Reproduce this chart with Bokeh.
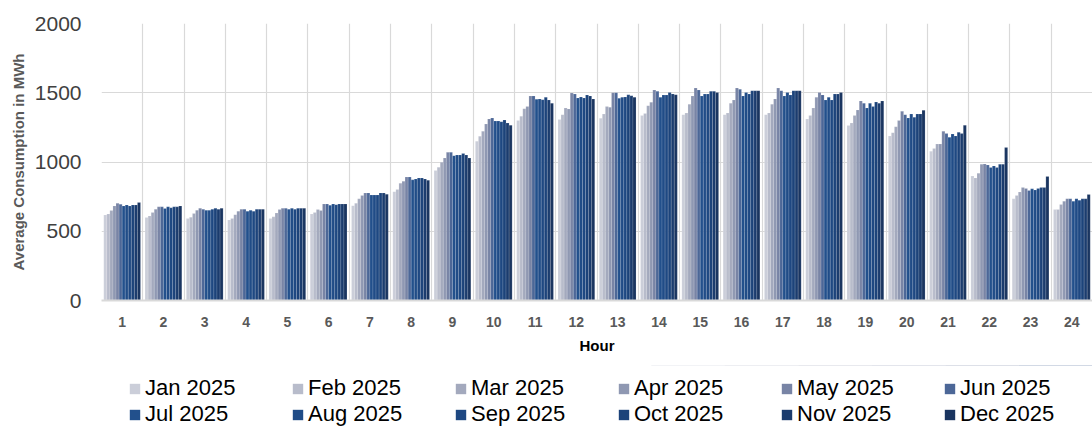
from bokeh.plotting import figure
from bokeh.layouts import column
from bokeh.models import Legend, LegendItem, FixedTicker, ColumnDataSource
from bokeh.transform import dodge
from bokeh.embed import file_html
from bokeh.resources import INLINE

hour_labels = [str(h) for h in range(1, 25)]
months = ["Jan 2025", "Feb 2025", "Mar 2025", "Apr 2025", "May 2025", "Jun 2025",
          "Jul 2025", "Aug 2025", "Sep 2025", "Oct 2025", "Nov 2025", "Dec 2025"]

jan = [618, 599, 592, 582, 592, 625, 685, 786, 938, 1150, 1299, 1306, 1315, 1335, 1342, 1342, 1342, 1311, 1263, 1188, 1077, 899, 734, 657]
feb = [625, 611, 601, 592, 604, 635, 702, 801, 962, 1186, 1330, 1342, 1346, 1351, 1354, 1354, 1354, 1335, 1282, 1212, 1097, 885, 758, 657]
mar = [649, 635, 628, 620, 632, 657, 734, 847, 998, 1222, 1385, 1390, 1400, 1407, 1417, 1424, 1417, 1390, 1335, 1255, 1130, 919, 784, 693]
apr = [683, 659, 652, 645, 657, 650, 758, 861, 1029, 1275, 1400, 1383, 1395, 1431, 1477, 1448, 1455, 1467, 1376, 1299, 1130, 984, 815, 717]
may = [702, 676, 666, 659, 666, 697, 777, 892, 1070, 1311, 1477, 1498, 1500, 1520, 1534, 1534, 1534, 1501, 1441, 1366, 1222, 986, 808, 734]
jun = [695, 676, 659, 659, 666, 697, 777, 892, 1070, 1318, 1477, 1491, 1500, 1510, 1520, 1525, 1515, 1484, 1424, 1342, 1205, 979, 794, 734]
jul = [683, 664, 652, 645, 659, 688, 762, 871, 1046, 1296, 1453, 1462, 1460, 1467, 1477, 1477, 1477, 1448, 1390, 1318, 1178, 960, 806, 717]
aug = [690, 676, 652, 652, 666, 697, 762, 878, 1051, 1296, 1455, 1469, 1467, 1484, 1491, 1501, 1501, 1467, 1424, 1347, 1202, 972, 798, 734]
sep = [683, 669, 659, 645, 659, 692, 762, 885, 1051, 1291, 1450, 1462, 1470, 1484, 1491, 1491, 1484, 1448, 1400, 1323, 1188, 960, 808, 724]
oct_ = [690, 676, 666, 659, 666, 697, 777, 885, 1061, 1303, 1467, 1484, 1485, 1501, 1510, 1515, 1515, 1491, 1433, 1347, 1214, 984, 815, 734]
nov = [690, 676, 659, 659, 666, 697, 777, 878, 1051, 1282, 1448, 1477, 1478, 1491, 1510, 1515, 1515, 1491, 1424, 1347, 1205, 984, 815, 734]
dec = [707, 683, 666, 659, 666, 697, 767, 868, 1029, 1265, 1424, 1455, 1468, 1486, 1501, 1515, 1515, 1501, 1441, 1373, 1265, 1104, 895, 765]

series = [jan, feb, mar, apr, may, jun, jul, aug, sep, oct_, nov, dec]
colors = ["#cbced9", "#b8bccb", "#a3a9bd", "#8f98b2", "#7884a5", "#4c6797",
          "#22508c", "#204c87", "#1e4882", "#1c437a", "#1b3c6e", "#1a3560"]

hour_pos = list(range(1, 25))
data = {"x": hour_pos}
for i, s in enumerate(series):
    data["m%d" % i] = s
source = ColumnDataSource(data)

p = figure(width=1092, height=365, x_range=(0.5, 24.5), y_range=(0, 2000),
           output_backend="svg", toolbar_location=None,
           min_border_left=101, min_border_right=0, min_border_top=23, min_border_bottom=65)
p.outline_line_color = None
p.background_fill_color = "white"

bar_w = 0.0742
for i, m in enumerate(months):
    off = (i - 5.5) * bar_w
    p.vbar(x=dodge("x", off, range=p.x_range), top="m%d" % i, width=bar_w,
           source=source, fill_color=colors[i], line_color="white",
           line_width=0.4, line_alpha=0.35)

grid_col = "#d9d9d9"
p.xgrid.ticker = FixedTicker(ticks=[h + 0.5 for h in range(0, 25)])
p.xgrid.grid_line_color = grid_col
p.xgrid.grid_line_width = 1.2
p.ygrid.ticker = FixedTicker(ticks=[0, 500, 1000, 1500, 2000])
p.ygrid.grid_line_color = grid_col
p.ygrid.grid_line_width = 1.2

xa = p.xaxis[0]
xa.ticker = FixedTicker(ticks=hour_pos)
xa.major_label_overrides = {h: lbl for h, lbl in zip(hour_pos, hour_labels)}
xa.major_tick_line_color = None
xa.minor_tick_line_color = None
xa.axis_line_color = grid_col
xa.axis_line_width = 2
xa.major_label_text_font = "Liberation Sans"
xa.major_label_text_font_style = "bold"
xa.major_label_text_font_size = "14px"
xa.major_label_text_color = "#595959"
xa.major_label_standoff = 10
xa.axis_label = "Hour"
xa.axis_label_text_font = "Liberation Sans"
xa.axis_label_text_font_style = "bold"
xa.axis_label_text_font_size = "15px"
xa.axis_label_text_color = "#000000"
xa.axis_label_standoff = 7

ya = p.yaxis[0]
ya.ticker = FixedTicker(ticks=[0, 500, 1000, 1500, 2000])
ya.major_tick_line_color = None
ya.minor_tick_line_color = None
ya.axis_line_color = None
ya.major_label_text_font = "Liberation Sans"
ya.major_label_text_font_size = "21px"
ya.major_label_text_color = "#404040"
ya.major_label_standoff = 14
ya.axis_label = "Average Consumption in MWh"
ya.axis_label_text_font = "Liberation Sans"
ya.axis_label_text_font_style = "bold"
ya.axis_label_text_font_size = "15px"
ya.axis_label_text_color = "#595959"
ya.axis_label_standoff = 5

# Legend strip below the chart
q = figure(width=1092, height=62, x_range=(0, 1), y_range=(-2, -1),
           output_backend="svg", toolbar_location=None,
           min_border_left=0, min_border_right=0, min_border_top=0, min_border_bottom=0)
q.outline_line_color = None
q.axis.visible = False
q.grid.visible = False
leg_renderers = []
for i, m in enumerate(months):
    off = (i - 5.5) * bar_w
    r = q.vbar(x=dodge("x", off, range=q.x_range), top="m%d" % i, width=bar_w,
               source=source, fill_color=colors[i], line_color=None)
    leg_renderers.append(r)

legend = Legend(items=[LegendItem(label=m, renderers=[r]) for m, r in zip(months, leg_renderers)],
                ncols=6, orientation="horizontal", location=(27, 0))
legend.border_line_color = None
legend.background_fill_alpha = 0
legend.label_text_font = "Liberation Sans"
legend.label_text_font_size = "22px"
legend.label_text_color = "#000000"
legend.glyph_width = 13
legend.glyph_height = 13
legend.label_standoff = 4
legend.label_width = 146
legend.label_height = 20
legend.spacing = 0
legend.padding = 0
legend.margin = 0
q.add_layout(legend, "center")

layout = column(p, q, spacing=0)
open("out.html", "w").write(file_html(layout, INLINE))
